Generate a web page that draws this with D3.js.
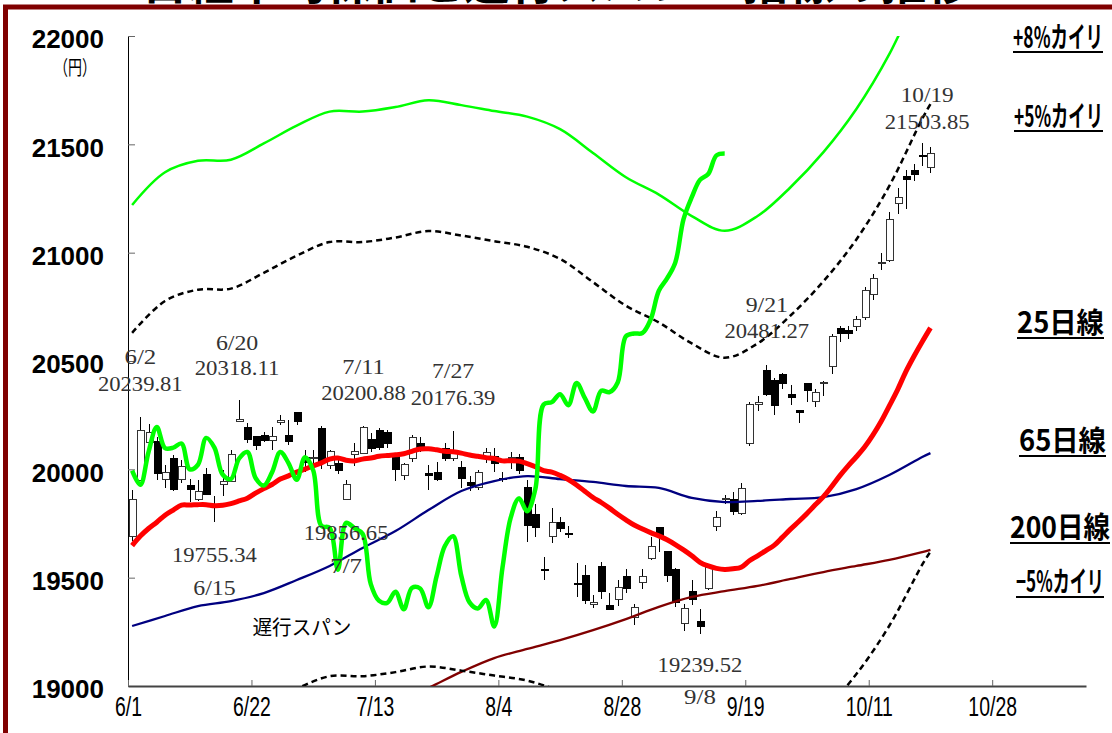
<!DOCTYPE html>
<html><head><meta charset="utf-8">
<script src="https://cdn.jsdelivr.net/npm/d3@7"></script>
<style>html,body{margin:0;padding:0;background:#fff;}svg{display:block;}</style>
</head><body>
<svg id="chart" width="1112" height="733"></svg>
<script>
// ---------------- DATA ----------------
const dates = ["6/1","6/2","6/5","6/6","6/7","6/8","6/9","6/12","6/13","6/14","6/15","6/16","6/19","6/20","6/21","6/22","6/23","6/26","6/27","6/28","6/29","6/30","7/3","7/4","7/5","7/6","7/7","7/10","7/11","7/12","7/13","7/14","7/18","7/19","7/20","7/21","7/24","7/25","7/26","7/27","7/28","7/31","8/1","8/2","8/3","8/4","8/7","8/8","8/9","8/10","8/14","8/15","8/16","8/17","8/18","8/21","8/22","8/23","8/24","8/25","8/28","8/29","8/30","8/31","9/1","9/4","9/5","9/6","9/7","9/8","9/11","9/12","9/13","9/14","9/15","9/19","9/20","9/21","9/22","9/25","9/26","9/27","9/28","9/29","10/2","10/3","10/4","10/5","10/6","10/10","10/11","10/12","10/13","10/16","10/17","10/18","10/19","10/20"];
const openP  = [19688,19950,20125,20127,19951,20052,19951,19925,19862,19974,19822,19932,19945,20226,20194,20151,20154,20135,20220,20155,20263,20055,20050,20190,20020,20029,19862,20070,20074,20140,20178,20168,20058,19970,20052,20120,19980,19985,20098,20050,20010,19940,19914,20050,20060,19960,20050,20055,19917,19793,19540,19689,19754,19705,19475,19511,19374,19550,19370,19397,19505,19317,19480,19590,19730,19620,19540,19290,19435,19300,19450,19738,19860,19860,19795,20120,20300,20455,20411,20440,20347,20270,20398,20315,20395,20475,20650,20640,20660,20700,20805,20950,20966,21228,21350,21380,21450,21395];
const highP  = [19905,20239.81,20210,20150,20020,20066,20045,19955,19950,20005,19875,19995,20090,20318.11,20212,20155,20174,20197,20250,20228,20265,20090,20090,20200,20090,20050,19950,20121,20200.88,20170,20191,20180,20065,20030,20158,20150,20020,20035,20120,20176.39,20040,19970,19995,20100,20100,19990,20080,20070,19950,19838,19597,19823,19782,19740,19570,19557,19420,19573,19430,19490,19540,19380,19540,19690,19735,19625,19545,19380,19490,19357,19550,19810,19880,19895,19935,20310,20340,20481.27,20420,20445,20390,20275,20400,20370,20410,20625,20660,20660,20710,20840,20900,21000,21190,21300,21380,21410,21503.85,21490];
const lowP   = [19670,19945,20110,19950,19914,19900,19935,19850,19855,19880,19755.34,19875,19940,20220,20120,20090,20128,20090,20205,20112,20205,19990,20000,20000,20000,19980,19856.65,20015,20070,20080,20090,20100,19945,19950,20035,20080,19905,19945,20040,20040,19915,19900,19905,20030,19990,19940,20000,19980,19666,19690,19489,19661,19712,19685,19410,19380,19360,19400,19350,19370,19430,19280,19450,19580,19620,19480,19365,19255,19375,19239.52,19445,19715,19840,19790,19790,20110,20270,20340,20250,20370,20295,20215,20310,20290,20340,20440,20590,20600,20640,20690,20780,20920,20955,21180,21200,21330,21400,21370];
const closeP = [19860,20177,20171,19980,19985,19909,20013,19909,19899,19884,19832,19943,20068,20230,20139,20111,20133,20153,20225,20130,20220,20033,20056,20032,20082,19994,19929,20081,20195,20098,20100,20119,20000,20021,20145,20100,19976,19955,20050,20080,19960,19925,19986,20080,20029,19952,20056,19996,19739,19730,19537,19753,19729,19703,19470,19393,19384,19435,19354,19453,19450,19363,19507,19646,19691,19508,19386,19358,19397,19275,19546,19777,19866,19807,19910,20299,20310,20347,20296,20398,20330,20267,20363,20356,20401,20614,20627,20629,20691,20824,20881,20955,21155,21256,21336,21363,21449,21458];

// 25-day moving average (one value per trading day)
const ma25 = [19648,19692,19727,19756,19788,19812,19835,19835,19837,19837,19832,19834,19842,19854,19867,19890,19911,19930,19955,19970,19987,20001,20016,20030,20047,20052,20042,20039,20047,20052,20060,20064,20067,20072,20083,20094,20095,20090,20083,20081,20075,20066,20060,20054,20050,20039,20040,20038,20026,20012,19994,19987,19972,19953,19928,19899,19870,19847,19821,19793,19767,19743,19725,19708,19693,19675,19653,19628,19601,19571,19554,19543,19538,19541,19548,19578,19601,19625,19649,19686,19724,19759,19796,19836,19874,19921,19971,20016,20058,20103,20158,20221,20293,20367,20450,20522,20589,20653];

// lines read every 4 trading days
const bandDays = [0,4,8,12,16,20,24,28,32,36,40,44,48,52,56,60,64,68,72,76,80,84,88,92,96,97];
const plus8  = [21220,21371,21424,21429,21504,21586,21651,21651,21672,21703,21681,21654,21628,21570,21460,21348,21268,21169,21101,21169,21302,21464,21663,21916,22236,22305];
const plus5  = [20630,20777,20829,20834,20907,20986,21049,21049,21070,21100,21079,21053,21027,20971,20864,20755,20678,20581,20515,20581,20710,20868,21061,21308,21618,21686];
const minus5 = [18666,18799,18845,18850,18915,18988,19045,19045,19064,19090,19071,19048,19025,18973,18877,18779,18708,18621,18561,18621,18738,18880,19055,19278,19560,19620];
const ma65   = [19277,19323,19369,19392,19429,19489,19554,19637,19715,19812,19900,19946,19969,19955,19942,19923,19914,19868,19849,19854,19863,19872,19909,19974,20057,20075];
const ma200Days = [32,36,40,44,48,52,56,60,64,68,72,76,80,84,88,92,96,97];
const ma200  = [18922,18991,19065,19129,19171,19212,19258,19309,19365,19411,19438,19462,19494,19526,19554,19582,19618,19628];

// lagging span (close plotted 25 days back), day 0 .. 72
const lagSpan = [19994,19929,20081,20195,20098,20100,20119,20000,20021,20145,20100,19976,19955,20050,20080,19960,19925,19986,20080,20029,19952,20056,19996,19739,19730,19537,19753,19729,19703,19470,19393,19384,19435,19354,19453,19450,19363,19507,19646,19691,19508,19386,19358,19397,19275,19546,19777,19866,19807,19910,20299,20310,20347,20296,20398,20330,20267,20363,20356,20401,20614,20627,20629,20691,20824,20881,20955,21155,21256,21336,21363,21449,21458];

const xTickIdx    = [0,15,30,45,60,75,90,105];
const xTickLabels = ["6/1","6/22","7/13","8/4","8/28","9/19","10/11","10/28"];
const yTicks      = [19000,19500,20000,20500,21000,21500,22000];

// annotated highs / lows
const annoIdx   = [1,13,28,39,77,96,10,26,69];
const annoDate  = ["6/2","6/20","7/11","7/27","9/21","10/19","6/15","7/7","9/8"];
const annoValue = [20239.81,20318.11,20200.88,20176.39,20481.27,21503.85,19755.34,19856.65,19239.52];

const rightLabels = ["+8%カイリ","+5%カイリ","25日線","65日線","200日線","−5%カイリ"];
const titleText = "日経平均株価と遅行スパン・指標の推移";

// ---------------- LAYOUT ----------------
const PL = 128, PR = 1086, PT = 36, PB = 686;
const NCAT = 116.4;
const svg = d3.select("#chart");
const x = d3.scaleLinear().domain([0, NCAT]).range([PL, PR]);
const cx = i => x(i + 0.5);
const y = d3.scaleLinear().domain([19000, 22000]).range([PB, PT]);

// place a text so that it spans exactly width w (horizontal scale only)
function fitText(parent, str, xLeftOrCenter, baseline, w, anchor, attrs) {
  const g = parent.append("g");
  const t = g.append("text").attr("x", 0).attr("y", 0).text(str);
  Object.entries(attrs).forEach(([k, v]) => t.attr(k, v));
  const nat = t.node().getComputedTextLength() || w;
  const sx = w / nat;
  const x0 = anchor === "middle" ? xLeftOrCenter - w / 2 : xLeftOrCenter;
  g.attr("transform", `translate(${x0},${baseline}) scale(${sx},1)`);
  return t;
}

// title (mostly cut off at top, as in the original)
svg.append("text").attr("x", 557).attr("y", -1).attr("text-anchor", "middle")
  .attr("font-family", "'Noto Sans CJK JP'").attr("font-weight", 700).attr("font-size", 46)
  .attr("fill", "#000").text(titleText);

// frame
svg.append("rect").attr("x", 5.5).attr("y", 7).attr("width", 1300).attr("height", 900)
  .attr("fill", "none").attr("stroke", "#800000").attr("stroke-width", 5);

svg.append("defs").append("clipPath").attr("id", "plotclip")
  .append("rect").attr("x", PL).attr("y", PT).attr("width", PR - PL).attr("height", PB - PT);

// axes
const yAxis = d3.axisLeft(y).tickValues(yTicks).tickSizeInner(-7).tickSizeOuter(0).tickPadding(24)
  .tickFormat(d3.format("d"));
const gy = svg.append("g").attr("transform", `translate(${PL},0)`).call(yAxis);
gy.select(".domain").attr("stroke", "#000").attr("stroke-width", 1);
gy.selectAll(".tick line").attr("stroke", "#666");
gy.selectAll(".tick text").attr("font-family", "'Liberation Sans', Arial, sans-serif")
  .attr("font-weight", 700).attr("font-size", 26).attr("fill", "#000").attr("dy", "0.45em");

const xAxis = d3.axisBottom(x).tickValues(xTickIdx).tickSizeInner(-6).tickSizeOuter(0)
  .tickFormat((d, i) => xTickLabels[i]);
const gx = svg.append("g").attr("transform", `translate(0,${PB})`).call(xAxis);
gx.select(".domain").attr("stroke", "#444").attr("stroke-width", 2);
gx.selectAll(".tick line").attr("stroke", "#666");
gx.selectAll(".tick text").remove();
gx.selectAll(".tick").append("text")
  .attr("transform", "translate(0,30) scale(0.72,1)")
  .attr("text-anchor", "middle").attr("font-family", "'Liberation Sans', Arial, sans-serif")
  .attr("font-size", 27).attr("fill", "#000")
  .text((d, i) => xTickLabels[i]);

fitText(svg, "（円）", 75, 75, 42, "middle",
  {"font-family": "'Noto Sans CJK JP'", "font-size": 20, "fill": "#000"});

// candles
const plot = svg.append("g").attr("clip-path", "url(#plotclip)");
const cg = plot.append("g").attr("shape-rendering", "crispEdges");
const idx = d3.range(closeP.length);
cg.selectAll("line.wick").data(idx).join("line").attr("class", "wick")
  .attr("x1", i => Math.round(cx(i)) + 0.5).attr("x2", i => Math.round(cx(i)) + 0.5)
  .attr("y1", i => y(highP[i])).attr("y2", i => y(lowP[i]))
  .attr("stroke", "#000").attr("stroke-width", 1);
cg.selectAll("rect.body").data(idx).join("rect").attr("class", "body")
  .attr("x", i => Math.round(cx(i)) - 3)
  .attr("width", 7)
  .attr("y", i => y(Math.max(openP[i], closeP[i])))
  .attr("height", i => Math.max(1.5, Math.abs(y(openP[i]) - y(closeP[i]))))
  .attr("fill", i => closeP[i] >= openP[i] ? "#fff" : "#000")
  .attr("stroke", i => closeP[i] >= openP[i] ? "#333" : "#000").attr("stroke-width", 1);

// lines
const smooth = d3.curveCatmullRom.alpha(0.5);
const lineGen = d3.line().x(d => cx(d[0])).y(d => y(d[1])).curve(smooth);
function drawLine(days, vals, color, width, dash) {
  const pts = days.map((d, k) => [d, vals[k]]);
  const p = plot.append("path").attr("d", lineGen(pts)).attr("fill", "none")
    .attr("stroke", color).attr("stroke-width", width)
    .attr("stroke-linejoin", "round").attr("stroke-linecap", "butt");
  if (dash) p.attr("stroke-dasharray", dash);
}
drawLine(ma200Days, ma200, "#800000", 2.3);
drawLine(bandDays, ma65, "#000080", 2.3);
drawLine(bandDays, minus5, "#000", 2.5, "6,4");
drawLine(bandDays, plus5, "#000", 2.5, "6,4");
drawLine(bandDays, plus8, "#00ff00", 2.5);
drawLine(d3.range(ma25.length), ma25, "#ff0000", 5);
drawLine(d3.range(lagSpan.length), lagSpan, "#00ff00", 4.5);

// annotations
const annoLayout = [
  {dx: 0, dDate: -60, dVal: -33}, {dx: -2, dDate: -57, dVal: -32}, {dx: 1, dDate: -59, dVal: -33},
  {dx: 0, dDate: -60, dVal: -33}, {dx: 1, dDate: -60, dVal: -34}, {dx: 5, dDate: -48, dVal: -21},
  {dx: 0, dDate: 66, dVal: 33}, {dx: 0, dDate: 66, dVal: 33}, {dx: 0, dDate: 63, dVal: 31}
];
const annoAttrs = {"font-family": "'Liberation Serif', 'Times New Roman', serif", "font-size": 20, "fill": "#333"};
const annoG = svg.append("g");
annoIdx.forEach((ii, k) => {
  const L = annoLayout[k];
  const ax = cx(ii) + L.dx, ay = y(annoValue[k]);
  const vs = annoValue[k].toFixed(2), ds = annoDate[k];
  fitText(annoG, ds, ax, ay + L.dDate + 7, ds.length * 10.6, "middle", annoAttrs);
  fitText(annoG, vs, ax, ay + L.dVal + 7, vs.length * 10.6, "middle", annoAttrs);
});

fitText(svg, "遅行スパン", 302, 635, 99, "middle",
  {"font-family": "'Noto Sans CJK JP'", "font-size": 20, "fill": "#000"});

// right-side labels
const rlPos = [
  {x: 1013, w: 90, cy: 38, ul: 52}, {x: 1014, w: 89, cy: 117, ul: 131},
  {x: 1017, w: 87, cy: 323, ul: 338}, {x: 1019, w: 87, cy: 441, ul: 456},
  {x: 1010, w: 100, cy: 528, ul: 543}, {x: 1016, w: 88, cy: 582, ul: 597}
];
const rg = svg.append("g");
rightLabels.forEach((t, k) => {
  const P = rlPos[k];
  fitText(rg, t, P.x, P.cy + 10, P.w, "start",
    {"font-family": "'Noto Sans CJK JP'", "font-weight": 700, "font-size": 29, "fill": "#000"});
  rg.append("line").attr("x1", P.x).attr("x2", P.x + P.w).attr("y1", P.ul).attr("y2", P.ul)
    .attr("stroke", "#000").attr("stroke-width", 2);
});
</script>
</body></html>
